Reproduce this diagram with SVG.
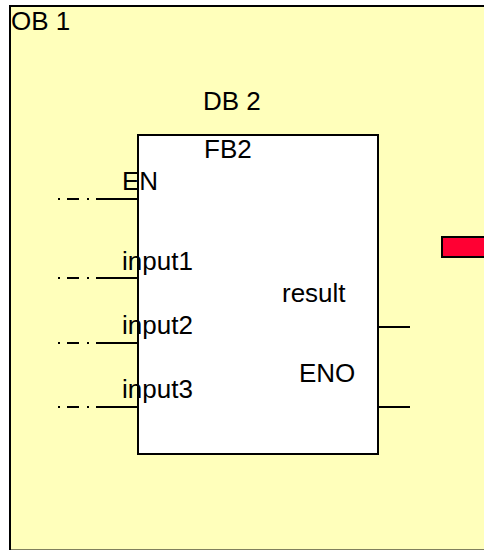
<svg xmlns="http://www.w3.org/2000/svg" width="484" height="550" viewBox="0 0 484 550">
<style>
text{font-family:"Liberation Sans",Arial,sans-serif;font-size:26px;fill:#000}
.ln{stroke:#000;stroke-width:2;fill:none}
.dd{stroke:#000;stroke-width:2;fill:none;stroke-dasharray:2 7 12 8 2 7}
</style>
<rect width="484" height="550" fill="#ffffff"/>
<g id="ob1">
<rect x="10" y="6" width="490" height="544.5" fill="#ffffbb" stroke="#000" stroke-width="2"/>
<text x="11" y="30">OB 1</text>
</g>
<g id="marker-red">
<rect x="442" y="237" width="60" height="20" fill="#ff0033" stroke="#000" stroke-width="2"/>
</g>
<g id="fb2">
<text x="203" y="110">DB 2</text>
<rect x="138" y="135" width="240" height="319" fill="#ffffff" stroke="#000" stroke-width="2"/>
<text x="204" y="158">FB2</text>
<text x="122" y="190">EN</text>
<text x="122" y="270">input1</text>
<text x="122" y="334">input2</text>
<text x="122" y="398">input3</text>
<text x="282" y="302">result</text>
<text x="299" y="382">ENO</text>
</g>
<g id="connectors">
<line class="dd" x1="58" y1="199" x2="96" y2="199"/>
<line class="ln" x1="96" y1="199" x2="138" y2="199"/>
<line class="dd" x1="58" y1="278" x2="96" y2="278"/>
<line class="ln" x1="96" y1="278" x2="138" y2="278"/>
<line class="dd" x1="58" y1="343" x2="96" y2="343"/>
<line class="ln" x1="96" y1="343" x2="138" y2="343"/>
<line class="dd" x1="58" y1="407" x2="96" y2="407"/>
<line class="ln" x1="96" y1="407" x2="138" y2="407"/>
<line class="ln" x1="378" y1="327" x2="410" y2="327"/>
<line class="ln" x1="378" y1="407" x2="410" y2="407"/>
</g>
</svg>
